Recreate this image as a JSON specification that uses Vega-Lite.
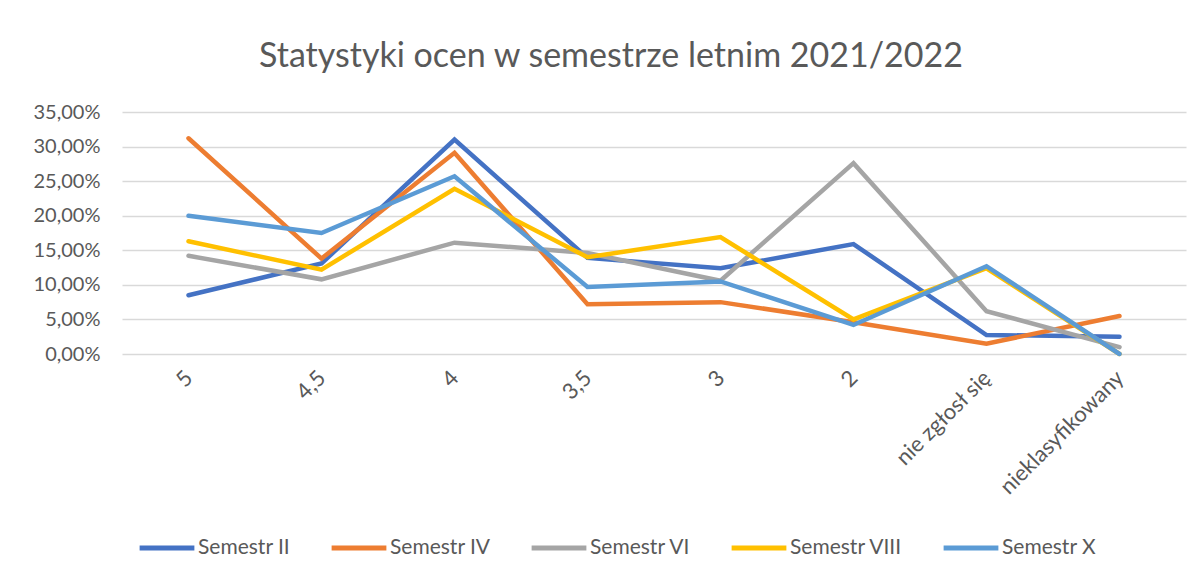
{
  "$schema": "https://vega.github.io/schema/vega-lite/v6.json",
  "autosize": {"type": "none"},
  "width": 1064,
  "height": 242,
  "padding": {"left": 122, "top": 112, "right": 14, "bottom": 223},
  "background": "white",
  "title": {
    "text": "Statystyki ocen w semestrze letnim 2021/2022",
    "font": "Lato",
    "fontSize": 34,
    "fontWeight": "normal",
    "color": "#595959",
    "anchor": "middle",
    "frame": "group",
    "dx": -43,
    "offset": 28
  },
  "data": {
    "values": [
      {"ocena": "5", "seria": "Semestr II", "udzial": 0.085},
      {"ocena": "4,5", "seria": "Semestr II", "udzial": 0.131},
      {"ocena": "4", "seria": "Semestr II", "udzial": 0.310},
      {"ocena": "3,5", "seria": "Semestr II", "udzial": 0.139},
      {"ocena": "3", "seria": "Semestr II", "udzial": 0.124},
      {"ocena": "2", "seria": "Semestr II", "udzial": 0.159},
      {"ocena": "nie zgłosł się", "seria": "Semestr II", "udzial": 0.0275},
      {"ocena": "nieklasyfikowany", "seria": "Semestr II", "udzial": 0.025},
      {"ocena": "5", "seria": "Semestr IV", "udzial": 0.312},
      {"ocena": "4,5", "seria": "Semestr IV", "udzial": 0.138},
      {"ocena": "4", "seria": "Semestr IV", "udzial": 0.291},
      {"ocena": "3,5", "seria": "Semestr IV", "udzial": 0.072},
      {"ocena": "3", "seria": "Semestr IV", "udzial": 0.075},
      {"ocena": "2", "seria": "Semestr IV", "udzial": 0.046},
      {"ocena": "nie zgłosł się", "seria": "Semestr IV", "udzial": 0.015},
      {"ocena": "nieklasyfikowany", "seria": "Semestr IV", "udzial": 0.055},
      {"ocena": "5", "seria": "Semestr VI", "udzial": 0.142},
      {"ocena": "4,5", "seria": "Semestr VI", "udzial": 0.108},
      {"ocena": "4", "seria": "Semestr VI", "udzial": 0.161},
      {"ocena": "3,5", "seria": "Semestr VI", "udzial": 0.146},
      {"ocena": "3", "seria": "Semestr VI", "udzial": 0.106},
      {"ocena": "2", "seria": "Semestr VI", "udzial": 0.276},
      {"ocena": "nie zgłosł się", "seria": "Semestr VI", "udzial": 0.062},
      {"ocena": "nieklasyfikowany", "seria": "Semestr VI", "udzial": 0.010},
      {"ocena": "5", "seria": "Semestr VIII", "udzial": 0.163},
      {"ocena": "4,5", "seria": "Semestr VIII", "udzial": 0.122},
      {"ocena": "4", "seria": "Semestr VIII", "udzial": 0.239},
      {"ocena": "3,5", "seria": "Semestr VIII", "udzial": 0.140},
      {"ocena": "3", "seria": "Semestr VIII", "udzial": 0.169},
      {"ocena": "2", "seria": "Semestr VIII", "udzial": 0.050},
      {"ocena": "nie zgłosł się", "seria": "Semestr VIII", "udzial": 0.124},
      {"ocena": "nieklasyfikowany", "seria": "Semestr VIII", "udzial": 0.0},
      {"ocena": "5", "seria": "Semestr X", "udzial": 0.200},
      {"ocena": "4,5", "seria": "Semestr X", "udzial": 0.175},
      {"ocena": "4", "seria": "Semestr X", "udzial": 0.257},
      {"ocena": "3,5", "seria": "Semestr X", "udzial": 0.097},
      {"ocena": "3", "seria": "Semestr X", "udzial": 0.105},
      {"ocena": "2", "seria": "Semestr X", "udzial": 0.042},
      {"ocena": "nie zgłosł się", "seria": "Semestr X", "udzial": 0.127},
      {"ocena": "nieklasyfikowany", "seria": "Semestr X", "udzial": 0.0}
    ]
  },
  "mark": {"type": "line", "strokeWidth": 4.5, "strokeCap": "round", "strokeJoin": "miter"},
  "encoding": {
    "x": {
      "field": "ocena",
      "type": "nominal",
      "sort": ["5", "4,5", "4", "3,5", "3", "2", "nie zgłosł się", "nieklasyfikowany"],
      "scale": {"type": "point", "padding": 0.5},
      "axis": {
        "title": null,
        "labelAngle": -45,
        "labelAlign": "right",
        "labelBaseline": "middle",
        "labelPadding": 20,
        "labelFont": "Lato",
        "labelFontSize": 22,
        "labelColor": "#595959",
        "ticks": false,
        "domain": false,
        "grid": false
      }
    },
    "y": {
      "field": "udzial",
      "type": "quantitative",
      "scale": {"domain": [0, 0.35], "nice": false},
      "axis": {
        "title": null,
        "values": [0, 0.05, 0.1, 0.15, 0.2, 0.25, 0.3, 0.35],
        "labelExpr": "replace(format(datum.value, '.2%'), '.', ',')",
        "labelFont": "Lato",
        "labelFontSize": 20,
        "labelColor": "#595959",
        "labelPadding": 22,
        "ticks": false,
        "domain": false,
        "grid": true,
        "gridColor": "#d9d9d9",
        "gridWidth": 1.5
      }
    },
    "color": {
      "field": "seria",
      "type": "nominal",
      "scale": {
        "domain": ["Semestr II", "Semestr IV", "Semestr VI", "Semestr VIII", "Semestr X"],
        "range": ["#4472C4", "#ED7D31", "#A5A5A5", "#FFC000", "#5B9BD5"]
      },
      "legend": {
        "title": null,
        "orient": "bottom",
        "direction": "horizontal",
        "offset": 5,
        "padding": 15,
        "symbolType": "stroke",
        "symbolSize": 3000,
        "symbolStrokeWidth": 5,
        "labelFont": "Lato",
        "labelFontSize": 21,
        "labelColor": "#595959",
        "labelOffset": 1,
        "columnPadding": 30,
        "labelLimit": 300
      }
    }
  },
  "config": {
    "view": {"stroke": null}
  }
}
